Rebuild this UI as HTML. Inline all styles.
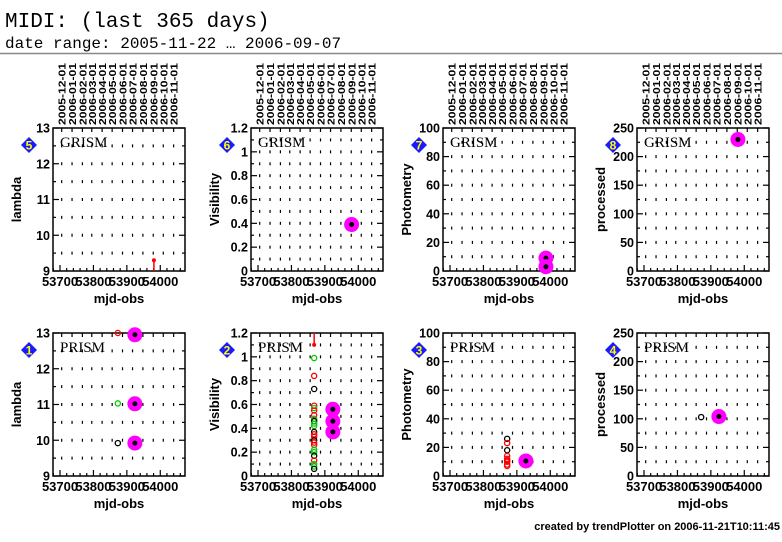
<!DOCTYPE html>
<html><head><meta charset="utf-8"><style>
html,body{margin:0;padding:0;background:#fff;width:782px;height:542px;overflow:hidden}
svg{display:block}
.t{font-family:"Liberation Mono",monospace}
.b{font-family:"Liberation Sans",sans-serif;font-weight:bold}
</style></head><body>
<svg id="c" width="782" height="542" xmlns="http://www.w3.org/2000/svg">
<text x="5" y="27" class="t" font-size="21">MIDI: (last 365 days)</text>
<text x="5" y="48" class="t" font-size="16">date range: 2005-11-22 … 2006-09-07</text>
<line x1="0" y1="53.5" x2="782" y2="53.5" stroke="#888" stroke-width="1.5"/>
<text x="780" y="530" text-anchor="end" class="b" font-size="11">created by trendPlotter on 2006-11-21T10:11:45</text>
</svg>
<script>
const monthLabels=["2005-12-01","2006-01-01","2006-02-01","2006-03-01","2006-04-01","2006-05-01","2006-06-01","2006-07-01","2006-08-01","2006-09-01","2006-10-01","2006-11-01"];
const monthMjd=[53705,53736,53767,53795,53826,53856,53887,53917,53948,53979,54009,54040];
const xTicks=[53700,53800,53900,54000];
const panelNames=["5","6","7","8","1","2","3","4"];
const panelModes=["GRISM","GRISM","GRISM","GRISM","PRISM","PRISM","PRISM","PRISM"];
const yLabels=["lambda","Visibility","Photometry","processed","lambda","Visibility","Photometry","processed"];
const yMin=[9,0,0,0,9,0,0,0];
const yMax=[13,1.2,100,250,13,1.2,100,250];
const yMajor=[1,0.2,20,50,1,0.2,20,50];
const yMinor=[0.5,0.1,10,25,0.5,0.1,10,25];
// points: [panel, mjd, value, type] types: m=magenta filled, k/r/g open circles, e=red error bar point
const ptPanel=[0,1,2,2,3, 4,4,4,4,4,4, 5,5,5,5,5,5,5,5,5,5,5,5,5,5,5,5,5,5,5,5,5,5,5,5,5,5,5,5, 6,6,6,6,6,6,6,6,6,6, 7,7];
const ptMjd=[53981,53980,53987,53987,53981, 53873,53873,53873,53924,53924,53924, 53868,53868,53868,53868,53868,53868,53868,53868,53868,53868,53868,53868,53868,53868,53868,53868,53868,53868,53868,53868,53868,53868,53868,53868,53924,53924,53924, 53868, 53871,53871,53871,53871,53871,53871,53871,53871,53871,53927, 53871,53924];
const ptVal=[9.3,0.39,9,3,230, 13,11.03,9.92,12.95,11.02,9.92, 1.1,0.99,0.84,0.73,0.59,0.57,0.55,0.51,0.48,0.46,0.44,0.42,0.37,0.35,0.33,0.30,0.28,0.26,0.22,0.20,0.17,0.13,0.10,0.08,0.56,0.46,0.37, 0.06, 26,23,18,14,12,11,10,8,7,10.5, 103,104];
const ptType=["e","m","m","m","m", "r","g","k","m","m","m", "e","g","r","k","r","g","r","r","g","k","g","g","k","r","r","k","r","r","g","g","k","r","g","g","m","m","m", "k", "k","r","k","r","r","r","r","r","r","m", "k","m"];

const NS="http://www.w3.org/2000/svg";
const svg=document.getElementById('c');
const lefts=[53,251,443,637], tops=[128,333], W=132, H=143, X0=53679, X1=54074;
function mk(tag,attrs,parent){const e=document.createElementNS(NS,tag);for(const k in attrs)e.setAttribute(k,attrs[k]);(parent||svg).appendChild(e);return e;}
const gs=[];
for(let p=0;p<8;p++){
  const L=lefts[p%4],T=tops[Math.floor(p/4)];
  const g=mk('g',{});
  
  
  gs.push(g);
  const sx=v=>L+(v-X0)/(X1-X0)*W;
  const sy=v=>T+H-(v-yMin[p])/(yMax[p]-yMin[p])*H;
  const nMin=Math.round((yMax[p]-yMin[p])/yMinor[p]);
  monthMjd.forEach(m=>{const x=sx(m);for(let i=1;i<nMin;i++){const y=sy(yMin[p]+i*yMinor[p]);const d=mk('line',{x1:x,y1:y-1.5,x2:x,y2:y+1.5,stroke:'#000','stroke-width':1.2},g);}});
  const fr=mk('rect',{x:L,y:T,width:W,height:H,fill:'none',stroke:'#000','stroke-width':1.5},g);
  
  for(let i=0;i<=nMin;i++){const v=yMin[p]+i*yMinor[p];const y=sy(v);const maj=Math.abs((v-yMin[p])/yMajor[p]-Math.round((v-yMin[p])/yMajor[p]))<1e-6;const len=maj?6:3;
    mk('line',{x1:L,y1:y,x2:L+len,y2:y,stroke:'#000','stroke-width':1.2},g);mk('line',{x1:L+W,y1:y,x2:L+W-len,y2:y,stroke:'#000','stroke-width':1.2},g);
    if(maj){const t=mk('text',{x:L-3,y:y+4.5,'text-anchor':'end','font-size':12.5,class:'b'},g);t.textContent=+v.toFixed(2)+'';}}
  for(let v=53680;v<=54070;v+=20){const x=sx(v);const maj=v%100===0;const len=maj?6:3;mk('line',{x1:x,y1:T+H,x2:x,y2:T+H-len,stroke:'#000','stroke-width':1.2},g);}
  monthMjd.forEach(m=>{const x=sx(m);mk('line',{x1:x,y1:T,x2:x,y2:T+4,stroke:'#000','stroke-width':1.2},g);});
  xTicks.forEach(v=>{const t=mk('text',{x:sx(v),y:T+H+15,'text-anchor':'middle','font-size':13,class:'b'},g);t.textContent=v;});
  const xl=mk('text',{x:L+W/2,y:T+H+32,'text-anchor':'middle','font-size':13,class:'b'},g);xl.textContent='mjd-obs';
  const yl=mk('text',{x:0,y:0,'text-anchor':'middle','font-size':13,class:'b',transform:`translate(${L-32},${T+H/2}) rotate(-90)`},g);yl.textContent=yLabels[p];
  const md=mk('text',{x:L+7,y:T+19,'font-size':15,'font-family':'Liberation Serif,serif'},g);md.textContent=panelModes[p];
  const dx=L-24,dy=T+17;
  const dm=mk('polygon',{points:`${dx},${dy-8} ${dx+8},${dy} ${dx},${dy+8} ${dx-8},${dy}`,fill:'#1a1aff'},g);
  const dn=mk('text',{x:dx,y:dy+4.5,'text-anchor':'middle','font-size':12,class:'b',fill:'#ff0'},g);dn.textContent=panelNames[p];
  if(p<4){monthLabels.forEach((s,i)=>{const t=mk('text',{x:0,y:0,'font-size':10.5,class:'b',textLength:62,lengthAdjust:'spacingAndGlyphs',transform:`translate(${sx(monthMjd[i])+4},${T-3}) rotate(-90)`},g);t.textContent=s;});}
}
ptPanel.forEach((p,i)=>{
  const L=lefts[p%4],T=tops[Math.floor(p/4)];
  const x=L+(ptMjd[i]-X0)/(X1-X0)*W, y=T+H-(ptVal[i]-yMin[p])/(yMax[p]-yMin[p])*H;
  const g=gs[p],ty=ptType[i];
  if(ty==='m'){const c=mk('circle',{cx:x,cy:y,r:7.5,fill:'#ff00ff'},g);
    const d=mk('circle',{cx:x,cy:y,r:2.5,fill:'#000'},g);}
  else if(ty==='e'){const top=p<4?T+H:T;mk('line',{x1:x,y1:y,x2:x,y2:top,stroke:'#f00','stroke-width':1.5},g);const c=mk('circle',{cx:x,cy:y,r:2,fill:'#f00'},g);}
  else{const col={k:'#000',r:'#f00',g:'#0c0'}[ty];const c=mk('circle',{cx:x,cy:y,r:2.6,fill:'none',stroke:col,'stroke-width':1.3},g);}
});
</script>
</body></html>
